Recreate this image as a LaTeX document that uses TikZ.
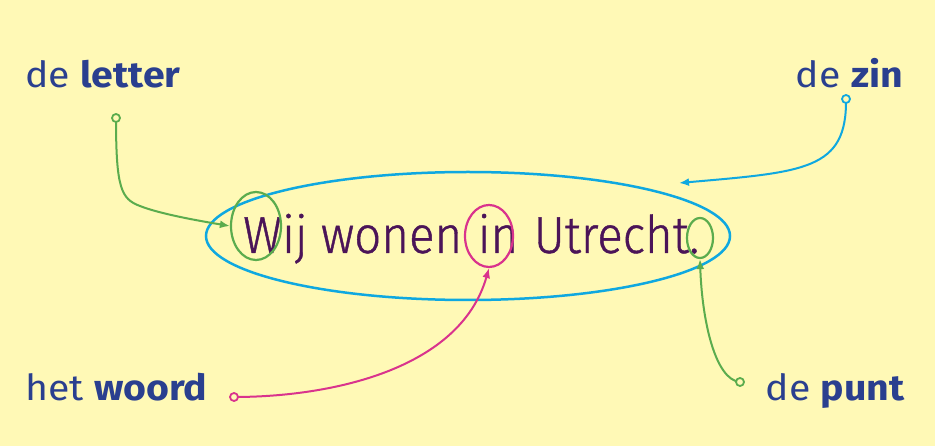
\documentclass[tikz,border=0pt]{standalone}
\usepackage{fontspec}
\setmainfont{Fira Sans}
\newfontfamily\labfont[FakeStretch=1.09]{Fira Sans}
\newfontfamily\sentfont[FakeStretch=0.914,FakeBold=0.8]{Fira Sans Light}
\usetikzlibrary{shapes.geometric,arrows.meta}
\definecolor{bg}{HTML}{FFF9B6}
\definecolor{lblue}{HTML}{2A3F8F}
\definecolor{spurple}{HTML}{4B1458}
\definecolor{lgreen}{HTML}{5BAC4E}
\definecolor{lcyan}{HTML}{0FA8E0}
\definecolor{lmag}{HTML}{D9338D}
\tikzset{
  lab/.style={text=lblue, font=\labfont\fontsize{36}{40}\selectfont, inner sep=0pt},
  sent/.style={text=spurple, font=\sentfont\fontsize{52}{56}\selectfont, inner sep=0pt},
  ring/.style={ellipse, draw, inner sep=0pt, line width=2.2pt},
  conn/.style={line width=2pt, -{Latex[length=10pt,width=8pt]}},
  dotc/.style={circle, draw, fill=bg, line width=1.8pt, minimum size=8pt, inner sep=0pt}
}
\begin{document}
\begin{tikzpicture}[x=1pt,y=-1pt]
\fill[bg] (0,0) rectangle (935,446);
\useasboundingbox (0,0) rectangle (935,446);
% labels
\node[lab, anchor=base west] (lletter) at (25,88) {de \textbf{letter}};
\node[lab, anchor=base east] (lzin) at (903,88) {de \textbf{zin}};
\node[lab, anchor=base west] (lwoord) at (25,400) {het \textbf{woord}};
\node[lab, anchor=base east] (lpunt) at (905,400) {de \textbf{punt}};
% sentence
\node[sent, anchor=base west] (sW) at (243,253) {W};
\node[sent, anchor=base west] (sij) at (sW.base east) {ij wonen};
\node[sent, anchor=base west] (sin) at ([xshift=15pt]sij.base east) {in};
\node[sent, anchor=base west] (sutr) at ([xshift=15pt]sin.base east) {Utrecht};
\node[sent, anchor=base west] (sdot) at (sutr.base east) {.};
% ellipses
\node[ring, draw=lcyan, line width=2.5pt, minimum width=524pt, minimum height=128pt] (ezin) at (468,236) {};
\node[ring, draw=lgreen, minimum width=50pt, minimum height=68pt] (eW) at (256,226) {};
\node[ring, draw=lmag, minimum width=48pt, minimum height=62pt] (ein) at (489,236) {};
\node[ring, draw=lgreen, minimum width=26pt, minimum height=40pt] (epunt) at (700,238) {};
% connector start points
\coordinate (c1) at (116,118);
\coordinate (c2) at (846,99);
\coordinate (c3) at (234,397);
\coordinate (c4) at (740,382);
\coordinate (tzin) at (679,183);
% connectors
\draw[conn, draw=lgreen] (c1) .. controls (116,188) and (121,199) .. (140,206) .. controls (160,214) and (200,221) .. (eW.west);
\draw[conn, draw=lcyan] (c2) .. controls (847,170) and (805,172) .. (tzin);
\draw[conn, draw=lmag] (c3) .. controls (330,397) and (460,370) .. (ein.south);
\draw[conn, draw=lgreen] (c4) .. controls (715,380) and (702,320) .. (epunt.south);
\node[dotc, draw=lgreen] at (c1) {};
\node[dotc, draw=lcyan] at (c2) {};
\node[dotc, draw=lmag] at (c3) {};
\node[dotc, draw=lgreen] at (c4) {};
\end{tikzpicture}
\end{document}
